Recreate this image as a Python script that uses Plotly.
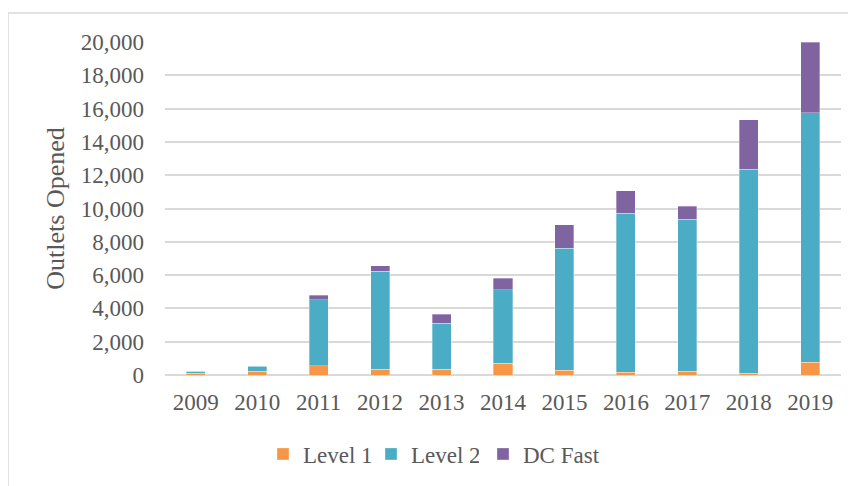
import plotly.graph_objects as go

years = ["2009", "2010", "2011", "2012", "2013", "2014", "2015", "2016", "2017", "2018", "2019"]
level1 = [100, 220, 560, 340, 340, 720, 280, 160, 220, 100, 760]
level2 = [140, 310, 3960, 5900, 2760, 4400, 7320, 9560, 9120, 12260, 15000]
dc_fast = [0, 30, 260, 320, 540, 680, 1420, 1360, 800, 2960, 4240]
y_ticks = list(range(0, 20001, 2000))

FONT = "Liberation Serif, Times New Roman, serif"
TXT = "#595959"
GRID = "#D9D9D9"

fig = go.Figure()
for name, vals, col, lg in [("Level 1", level1, "#F79646", "legend"),
                            ("Level 2", level2, "#4BACC6", "legend"),
                            ("DC Fast", dc_fast, "#8064A2", "legend2")]:
    fig.add_trace(go.Bar(x=years, y=vals, name=name, legend=lg,
                         marker=dict(color=col, line=dict(color="rgba(255,255,255,0.4)", width=0.8))))

W, H = 856, 486
OFF = 8  # page body margin
L, R, T = 165 - OFF, 856 - (841 - OFF), 42 - OFF
B = H - (375 - OFF)
pw, ph = W - L - R, H - T - B

def px_x(p):
    return (p - OFF - L) / pw

def px_y(p):
    return (H - B - (p - OFF)) / ph

legend_common = dict(orientation="h", xanchor="left", y=px_y(454), yanchor="middle",
                     font=dict(family=FONT, size=23, color=TXT), traceorder="normal",
                     itemclick=False, itemdoubleclick=False)

fig.update_layout(
    width=W, height=H,
    margin=dict(l=L, r=R, t=T, b=B, autoexpand=False),
    barmode="stack", bargap=0.69,
    plot_bgcolor="white", paper_bgcolor="white",
    font=dict(family=FONT, size=23, color=TXT),
    showlegend=True,
    legend=dict(x=px_x(263), entrywidth=63, entrywidthmode="pixels", **legend_common),
    legend2=dict(x=px_x(483), **legend_common),
    xaxis=dict(showgrid=False, showline=False, ticks="", ticklabelstandoff=11,
               tickfont=dict(family=FONT, size=23, color=TXT)),
    yaxis=dict(range=[0, 20000], tickvals=y_ticks, tickformat=",d",
               showgrid=True, gridcolor=GRID, gridwidth=1.6,
               zeroline=True, zerolinecolor=GRID, zerolinewidth=1.6,
               showline=False, ticks="", ticklabelstandoff=20,
               tickfont=dict(family=FONT, size=23, color=TXT),
               title=dict(text="Outlets Opened", standoff=8,
                          font=dict(family=FONT, size=26, color=TXT))),
    shapes=[dict(type="rect", xref="paper", yref="paper",
                 x0=px_x(8), x1=px_x(880), y0=px_y(510), y1=px_y(13),
                 line=dict(color=GRID, width=1.5), fillcolor="rgba(0,0,0,0)", layer="below")],
)

fig.write_html("out.html")
